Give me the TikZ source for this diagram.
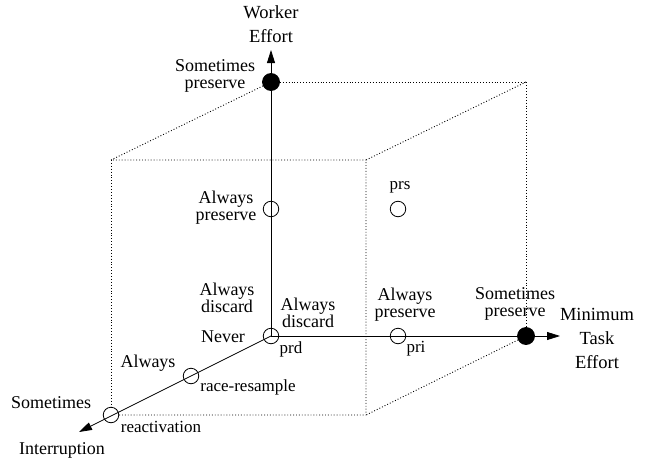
\documentclass[tikz,border=0pt]{standalone}
\usepackage{fontspec}
\setmainfont{Liberation Serif}
\usetikzlibrary{arrows.meta}

\tikzset{
  point/.style={draw,circle,line width=0.8pt,minimum size=15.5pt,inner sep=0pt},
  full/.style={point,fill=black,minimum size=17pt},
  lbl/.style={align=center,inner sep=0pt,font=\fontsize{18}{17}\selectfont},
  axislbl/.style={lbl,font=\fontsize{18.5}{24}\selectfont},
  tag/.style={inner sep=0pt,font=\fontsize{17}{16}\selectfont},
  axis/.style={line width=0.8pt,-{Triangle[length=13pt,width=8pt]}},
  edge/.style={dotted,line width=0.9pt}
}

\begin{document}
\begin{tikzpicture}[x=1pt,y=-1pt]
  \useasboundingbox (0,0) rectangle (647,460);

  % points of the cube
  \node[point] (prd) at (271,336) {};
  \node[point] (pre) at (271,209) {};
  \node[full]  (wsp) at (271,82) {};
  \node[point] (pri) at (398,336) {};
  \node[full]  (tsp) at (526,336) {};
  \node[point] (rr)  at (191,376) {};
  \node[point] (ra)  at (111,415) {};
  \node[point] (prs) at (398,209) {};
  \coordinate (wtip) at (271,50);
  \coordinate (ttip) at (560,336);
  \coordinate (itip) at (79,432);
  \coordinate (f1) at (111,160);
  \coordinate (f2) at (366,160);
  \coordinate (f3) at (366,415);
  \coordinate (b2) at (526,82);

  \draw[axis] (prd.center) -- (wtip);
  \draw[axis] (prd.center) -- (ttip);
  \draw[axis] (prd.center) -- (itip);

  \draw[edge] (wsp) -- (b2) -- (tsp);
  \draw[edge] (wsp) -- (f1) -- (f2) -- (f3) -- (ra);
  \draw[edge] (f1) -- (ra);
  \draw[edge] (b2) -- (f2);
  \draw[edge] (tsp) -- (f3);

  % axis names
  \node[axislbl] (wname) at (271,24) {Worker\\Effort};
  \node[axislbl] (tname) at (597,338) {Minimum\\Task\\Effort};
  \node[lbl] (iname) at (62,450) {Interruption};

  % value labels
  \node[lbl] (wsplbl) at (215,76) {Sometimes\\preserve};
  \node[lbl] (prelbl) at (226,208) {Always\\preserve};
  \node[lbl] (wdlbl)  at (227,298) {Always\\discard};
  \node[lbl] (tdlbl)  at (308,313) {Always\\discard};
  \node[lbl] (nvlbl)  at (223,337) {Never};
  \node[lbl] (tplbl)  at (405,305) {Always\\preserve};
  \node[lbl] (tsplbl) at (515,304) {Sometimes\\preserve};
  \node[lbl] (allbl)  at (148,363) {Always};
  \node[lbl] (smlbl)  at (51,403) {Sometimes};

  % policy tags
  \node[tag] (prdtag) at (291,349) {prd};
  \node[tag] (pritag) at (416,349) {pri};
  \node[tag] (prstag) at (400,187) {prs};
  \node[tag] (rrtag)  at (248,387) {race-resample};
  \node[tag] (ratag)  at (161,427) {reactivation};
\end{tikzpicture}
\end{document}
